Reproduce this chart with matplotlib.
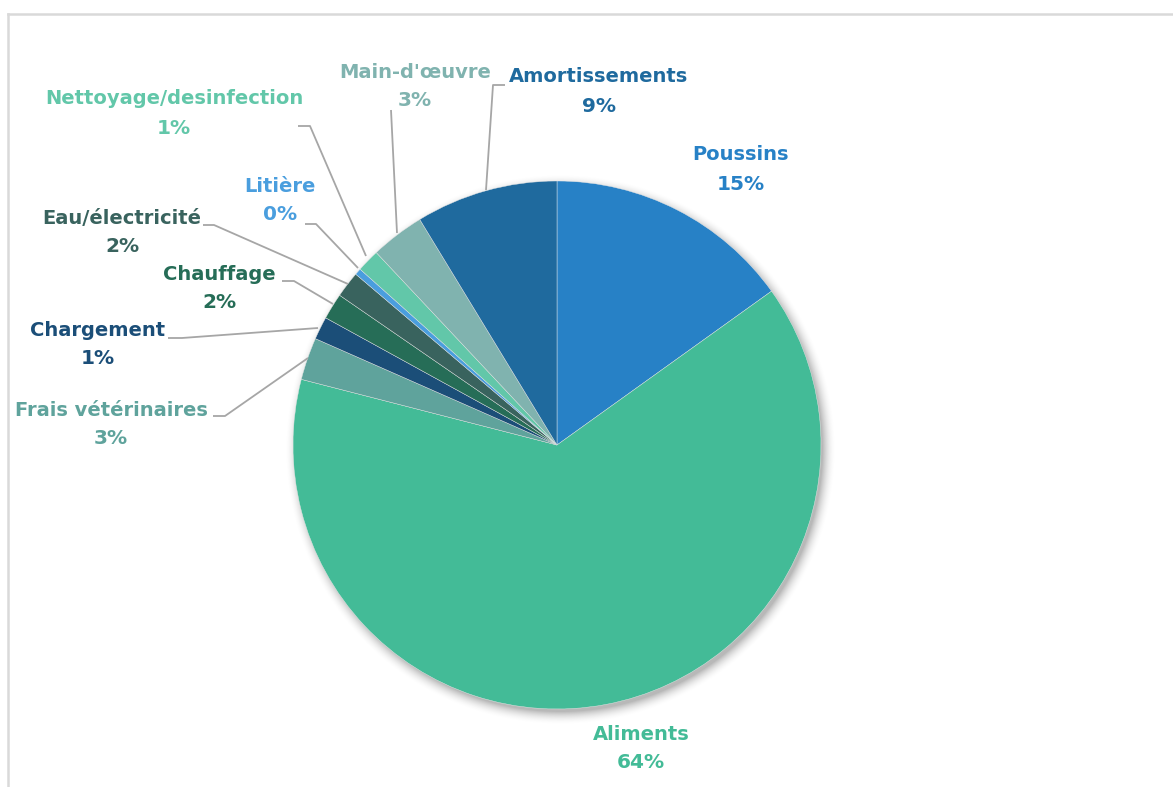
import numpy as np
import matplotlib
matplotlib.use("Agg")
import matplotlib.pyplot as plt

W, H = 1173, 787

categories = ["Poussins", "Aliments", "Frais vétérinaires", "Chargement", "Chauffage",
              "Eau/électricité", "Litière", "Nettoyage/desinfection", "Main-d'œuvre",
              "Amortissements"]
shares = [15.1, 63.9, 2.6, 1.4, 1.6, 1.6, 0.4, 1.4, 3.3, 8.7]
colors = ["#2781C6", "#43BB97", "#5FA39C", "#1B4E78", "#266D57",
          "#39635E", "#4A9EDE", "#62C7A9", "#80B3AF", "#1F6A9E"]

# label text centre (name line) and leader line points, in pixels from top-left
label_pos = {
    "Poussins": (741, 155),
    "Aliments": (641, 734),
    "Frais vétérinaires": (111, 410),
    "Chargement": (98, 330),
    "Chauffage": (219, 274),
    "Eau/électricité": (122, 218),
    "Litière": (280, 186),
    "Nettoyage/desinfection": (174, 99),
    "Main-d'œuvre": (415, 72),
    "Amortissements": (599, 77),
}
leaders = {
    "Frais vétérinaires": [(213, 416), (225, 416), (308, 358)],
    "Chargement": [(168, 338), (182, 338), (318, 328)],
    "Chauffage": [(282, 281), (294, 281), (333, 304)],
    "Eau/électricité": [(203, 225), (214, 225), (348, 284)],
    "Litière": [(305, 224), (316, 224), (358, 268)],
    "Nettoyage/desinfection": [(298, 126), (310, 126), (366, 256)],
    "Main-d'œuvre": [(391, 110), (397, 233)],
    "Amortissements": [(505, 85), (493, 85), (486, 190)],
}


def px(x, y):
    return x, H - y


fig = plt.figure(figsize=(W / 100, H / 100), dpi=100)
ax = fig.add_axes([0, 0, 1, 1])

cx, cy = px(557, 445)
r = 264

# soft drop shadow under the pie
gx, gy = np.meshgrid(np.arange(W), np.arange(H))
d = np.hypot(gx - (cx + 3), (H - gy) - (cy - 4))
shadow = np.clip((r + 12 - d) / 14, 0, 1) ** 2
rgba = np.zeros((H, W, 4))
rgba[..., 3] = shadow * 0.28
ax.imshow(rgba, extent=(0, W, 0, H), origin="upper", zorder=0)

ax.pie(shares, colors=colors, startangle=90, counterclock=False,
       center=(cx, cy), radius=r, frame=True,
       wedgeprops=dict(linewidth=0.3, edgecolor="#E8E8E8", zorder=2))
ax.set_xlim(0, W)
ax.set_ylim(0, H)
ax.set_aspect("equal")
ax.axis("off")

for name, pts in leaders.items():
    xs, ys = zip(*[px(*p) for p in pts])
    ax.plot(xs, ys, color="#A6A6A6", lw=1.3, zorder=3, solid_capstyle="butt")

for name, share, col in zip(categories, shares, colors):
    x, y = label_pos[name]
    ax.text(*px(x, y), name, ha="center", va="center", color=col,
            fontsize=14, fontweight="bold", family="DejaVu Sans", zorder=4)
    ax.text(*px(x, y + 29), f"{round(share):.0f}%", ha="center", va="center",
            color=col, fontsize=14.5, fontweight="bold", family="DejaVu Sans", zorder=4)

# thin chart border (top and left visible)
ax.plot([7.5, W], [H - 13.5, H - 13.5], color="#D9D9D9", lw=1.8, zorder=1)
ax.plot([7.5, 7.5], [0, H - 13.5], color="#D9D9D9", lw=1.8, zorder=1)

fig.savefig("out.png", dpi=100)
